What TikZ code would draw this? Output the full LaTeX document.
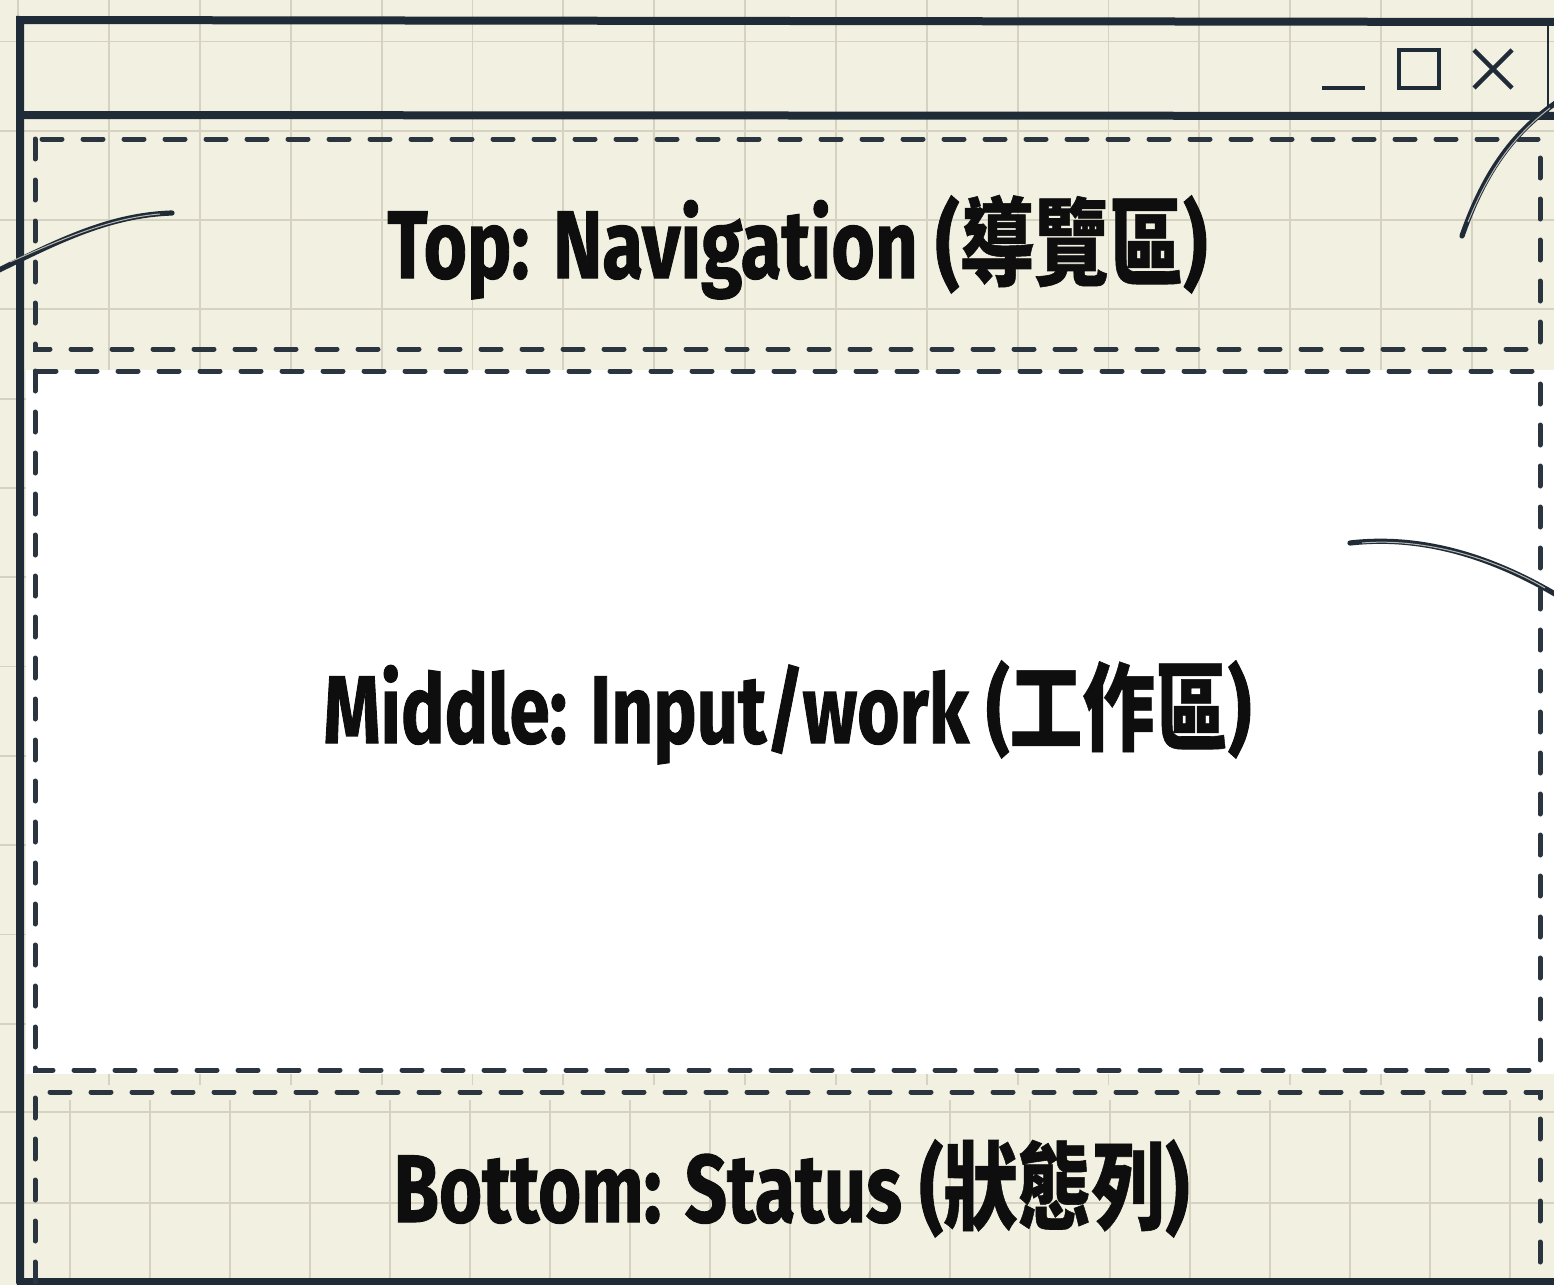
\documentclass[tikz,border=0pt]{standalone}
\usepackage{graphicx}
\usepackage{fontspec}
\setmainfont{Fira Sans}[BoldFeatures={FakeBold=1.2}]
\newfontfamily\cjkfont{Noto Sans CJK TC}[BoldFeatures={FakeBold=0.6}]
\definecolor{bgcol}{HTML}{F2F0E1}
\definecolor{gridcol}{HTML}{D5D2C2}
\definecolor{framecol}{HTML}{1F2B37}
\definecolor{dashcol}{HTML}{2A3540}
\definecolor{txtcol}{HTML}{0E0E0E}
\newsavebox\lblbox
\newcommand\fitto[2]{\sbox\lblbox{#2}\pgfmathsetmacro\fitf{#1/\wd\lblbox}\scalebox{\fitf}[1]{\usebox\lblbox}}
\newcommand\cj[1]{{\cjkfont\bfseries #1}}
\tikzset{
  gridline/.style={draw=gridcol, line width=0.9pt},
  frameline/.style={draw=framecol, line width=4pt, line cap=round},
  dashbox/.style={draw=dashcol, line width=2.5pt, line cap=round, dash pattern=on 10pt off 10.5pt},
  btn/.style={draw=framecol, line width=2.2pt},
  stroke/.style={draw=framecol, line width=2.6pt, line cap=round},
  strokein/.style={draw=bgcol!50!gray, line width=0.5pt},
  lbl/.style={anchor=base west, inner sep=0pt, text=txtcol, font=\fontsize{48pt}{50pt}\selectfont\bfseries}
}
\begin{document}
\begin{tikzpicture}[x=0.5pt,y=-0.5pt]
\useasboundingbox (0,0) rectangle (1554,1285);
\fill[bgcol] (0,0) rectangle (1554,1285);
% upper grid
\begin{scope}
\clip (0,0) rectangle (1554,1085);
\foreach \k in {0,...,17} {\draw[gridline] ({18.2+90.86*\k},0) -- ({18.2+90.86*\k},1085);}
\foreach \k in {0,...,12} {\draw[gridline] (0,{41.4+89.3*\k}) -- (1554,{41.4+89.3*\k});}
\end{scope}
% lower grid
\begin{scope}
\clip (0,1085) rectangle (1554,1285);
\foreach \k in {0,...,18} {\draw[gridline] ({70+80*\k},1100) -- ({70+80*\k},1285);}
\foreach \y in {1112,1203} {\draw[gridline] (0,\y) -- (1554,\y);}
\end{scope}
% middle white area
\fill[white] (26,370) rectangle (1554,1074);
% window frame
\draw[frameline] (20,1282) -- (20,20) -- (1560,22);
\draw[frameline] (20,115) -- (1560,116);
\draw[frameline] (20,1282) -- (1560,1282);
\draw[draw=framecol, line width=1.2pt] (1548,24) -- (1548,113);
% window buttons
\draw[btn] (1322,88) -- (1365,88);
\draw[btn] (1399,50) rectangle (1439,88);
\draw[btn] (1474,50) -- (1512,88) (1512,50) -- (1474,88);
% dashed regions
\draw[dashbox] (35,139) rectangle (1540,349);
\draw[dashbox] (35,371) rectangle (1540,1070);
\draw[dashbox] (35,1282) -- (35,1092) -- (1540,1092) -- (1540,1282);
% decorative pen strokes
\draw[stroke] (-5,272) .. controls (60,240) and (110,215) .. (172,213);
\draw[strokein] (10,262) .. controls (60,240) and (110,218) .. (160,214);
\draw[stroke] (1462,236) .. controls (1485,170) and (1515,130) .. (1560,100);
\draw[strokein] (1468,222) .. controls (1490,168) and (1515,135) .. (1550,108);
\draw[stroke] (1350,543) .. controls (1420,535) and (1490,555) .. (1560,597);
\draw[strokein] (1362,543) .. controls (1420,538) and (1490,556) .. (1545,588);
% labels
\node[lbl] (top) at (387,278) {\fitto{410pt}{Top: Navigation (\cj{導覽區})}};
\node[lbl] (mid) at (323,743) {\fitto{464pt}{Middle: Input/work (\cj{工作區})}};
\node[lbl] (bot) at (393,1222) {\fitto{398pt}{Bottom: Status (\cj{狀態列})}};
\end{tikzpicture}
\end{document}
